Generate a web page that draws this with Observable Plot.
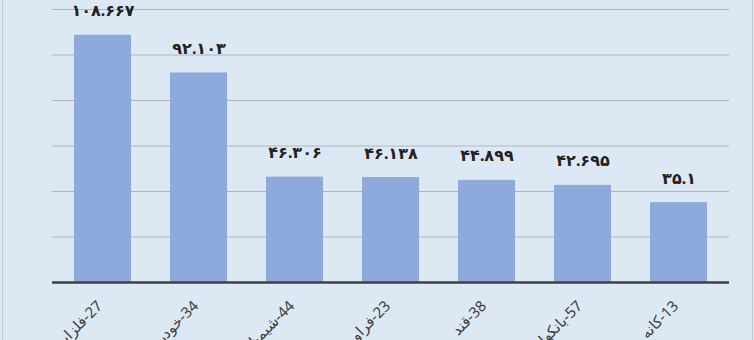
<!DOCTYPE html>
<html>
<head>
<meta charset="utf-8">
<script src="https://cdn.jsdelivr.net/npm/d3@7"></script>
<script src="https://cdn.jsdelivr.net/npm/@observablehq/plot@0.6"></script>
<style>
  html, body { margin: 0; padding: 0; background: #dde8f5; }
  #wrap { position: relative; width: 754px; height: 340px; overflow: hidden; background: #dde8f5; }
  #wrap .edge { position: absolute; top: 0; bottom: 0; width: 1px; background: #c4c8cc; }
</style>
</head>
<body>
<div id="wrap">
  <div class="edge" style="left:2px"></div>
  <div class="edge" style="left:752px"></div>
</div>
<script>
const categories = ["27-فلزات", "34-خودرو", "44-شیمیایی", "23-فراورده", "38-قند", "57-بانکها", "13-کانه"];
const values = [108.667, 92.103, 46.306, 46.138, 44.899, 42.695, 35.1];
const gridTicks = [20, 40, 60, 80, 100, 120];

const data = categories.map((c, i) => ({name: c, value: values[i]}));
const fa = "۰۱۲۳۴۵۶۷۸۹";
const toFa = v => String(v).replace(/[0-9]/g, d => fa[+d]);
const rtl = s => "\u200F" + s;

const chart = Plot.plot({
  width: 754,
  height: 340,
  marginLeft: 52,
  marginRight: 25,
  marginTop: 9,
  marginBottom: 58,
  style: {background: "transparent", fontFamily: "'Noto Sans', 'DejaVu Sans', sans-serif"},
  x: {domain: categories, paddingInner: 0.41, paddingOuter: 0.205, label: null, axis: null},
  y: {domain: [0, 120], label: null, axis: null},
  marks: [
    Plot.ruleY(gridTicks, {stroke: "#b0b4b9", strokeWidth: 1.2}),
    Plot.barY(data, {x: "name", y: "value", fill: "#8eaadc"}),
    Plot.ruleY([0], {stroke: "#3c3f44", strokeWidth: 2.5}),
    Plot.text(data, {x: "name", y: "value", text: d => toFa(d.value), dy: -24,
      fontSize: 16, fontWeight: "bold", fill: "#222"}),
    Plot.text(data, {x: "name", y: () => 0, text: d => rtl(d.name), rotate: -45, textAnchor: "end",
      dy: 21, dx: -3, fontSize: 15, fill: "#404040"})
  ]
});
document.getElementById("wrap").appendChild(chart);
</script>
</body>
</html>
